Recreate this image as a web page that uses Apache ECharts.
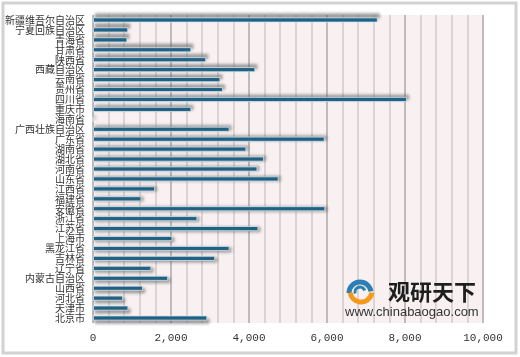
<!DOCTYPE html>
<html>
<head>
<meta charset="utf-8">
<script src="https://cdn.jsdelivr.net/npm/echarts@6/dist/echarts.min.js"></script>
<style>html,body{margin:0;padding:0;background:#fff}#c{width:520px;height:357px}</style>
</head>
<body>
<div id="c"></div>
<script>
var provinces = ['新疆维吾尔自治区','宁夏回族自治区','青海省','甘肃省','陕西省','西藏自治区','云南省','贵州省','四川省','重庆市','海南省','广西壮族自治区','广东省','湖南省','湖北省','河南省','山东省','江西省','福建省','安徽省','浙江省','江苏省','上海市','黑龙江省','吉林省','辽宁省','内蒙古自治区','山西省','河北省','天津市','北京市'];
var values = [7300,900,880,2520,2900,4160,3265,3330,8050,2520,0,3500,5940,3930,4385,4215,4760,1590,1240,5955,2675,4240,2035,3500,3130,1495,1925,1280,770,905,2930];
var xTicks = [0,2000,4000,6000,8000,10000];

var chart = echarts.init(document.getElementById('c'), null, {renderer:'canvas'});
var n = values.length;
var data = values.map(function(v,i){
  return {value:v, itemStyle:{shadowOffsetY: -4 + 7*i/(n-1)}};
});
chart.setOption({
  animation:false,
  backgroundColor:'#fff',
  grid:{left:93,right:37,top:15,bottom:34,show:true,backgroundColor:'#f9f1f1',borderWidth:0},
  xAxis:{
    type:'value', min:xTicks[0], max:xTicks[xTicks.length-1], interval:2000,
    axisLine:{show:false}, axisTick:{show:false},
    axisLabel:{margin:10,fontFamily:'Liberation Mono',fontSize:11,color:'#333',
      formatter:function(v){return String(v).replace(/\B(?=(\d{3})+(?!\d))/g, ',');}},
    splitLine:{show:true,lineStyle:{color:'#a9a9a9',width:1.5}},
    minorTick:{show:false,splitNumber:5},
    minorSplitLine:{show:true,lineStyle:{color:'#cfcaca',width:1.5}}
  },
  yAxis:{
    type:'category', data:provinces, inverse:true,
    axisLine:{show:false}, axisTick:{show:false},
    axisLabel:{interval:0,margin:8,fontFamily:'Noto Sans CJK SC',fontSize:10,color:'#333'},
    splitLine:{show:false}
  },
  series:[{
    type:'bar', data:data, barWidth:5,
    itemStyle:{color:'#1c6389',borderColor:'#d8e4ec',borderWidth:0.8,
      shadowColor:'rgba(90,90,90,0.55)',shadowBlur:3,shadowOffsetX:2}
  }],
  graphic:[
    {type:'rect',shape:{x:3,y:3,width:513,height:350},style:{fill:'none',stroke:'#d2d2d2',lineWidth:3},silent:true,z:100},
    {type:'arc',shape:{cx:360,cy:293,r:11,startAngle:Math.PI*1.0,endAngle:Math.PI*1.95},style:{fill:'none',stroke:'#2b7fb3',lineWidth:5},z:100},
    {type:'arc',shape:{cx:361,cy:291,r:11,startAngle:Math.PI*0.05,endAngle:Math.PI*0.95},style:{fill:'none',stroke:'#f39a1c',lineWidth:5},z:100},
    {type:'arc',shape:{cx:360,cy:292,r:5,startAngle:Math.PI*0.9,endAngle:Math.PI*1.9},style:{fill:'none',stroke:'#2b7fb3',lineWidth:3},z:100},
    {type:'text',style:{x:388,y:292,text:'观研天下',fontSize:22,fontWeight:'bold',fontFamily:'Noto Sans CJK SC',fill:'#1e1e1e',verticalAlign:'middle'},z:100},
    {type:'text',style:{x:345,y:312,text:'www.chinabaogao.com',fontSize:13,fontFamily:'Liberation Sans',fill:'#333',verticalAlign:'middle'},z:100}
  ]
});
</script>
</body>
</html>
